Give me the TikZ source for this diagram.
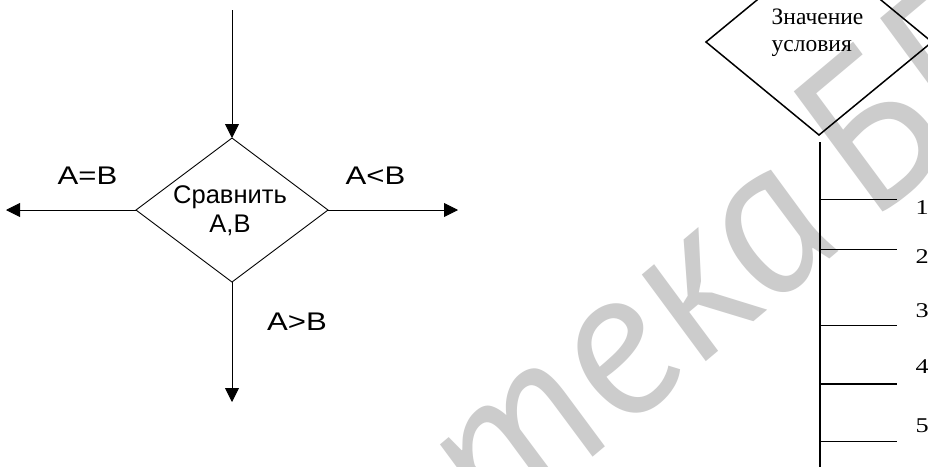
\documentclass[tikz,border=0pt]{standalone}
\usepackage{fontspec}
\setmainfont{Liberation Serif}
\newfontfamily\labelsans{Liberation Sans}
\newfontfamily\stampfont{PT Sans}
\usetikzlibrary{arrows.meta,shapes.geometric}

\begin{document}
\begin{tikzpicture}[x=1pt,y=-1pt,
  thinline/.style={line width=0.9pt, draw=black},
  boldline/.style={line width=1.5pt, draw=black},
  flow/.style={thinline, -{Triangle[length=14pt,width=14pt]}},
  decision/.style={shape=diamond, inner sep=0pt, outer sep=0pt},
  sanslabel/.style={font=\labelsans\fontsize{25.5pt}{29pt}\selectfont, inner sep=0pt},
  seriflabel/.style={font=\fontsize{23.5pt}{26.7pt}\selectfont, inner sep=0pt},
  casenum/.style={font=\fontsize{21pt}{24pt}\selectfont, inner sep=0pt, anchor=base west},
  stamptext/.style={text=black!20, font=\stampfont\itshape\fontsize{215pt}{215pt}\selectfont,
    rotate=40, xslant=-0.15, anchor=base, inner sep=0pt}]

\useasboundingbox (0,0) rectangle (928,466);
\clip (0,0) rectangle (928,466);
\fill[white] (0,0) rectangle (928,466);

% library stamp behind the drawing
\node[stamptext] (stamp) at (853,239) {\llap{Библиотека}\rlap{\hspace{0.15em}БГУИР}};

% ---- comparison block with three exits ----
\node[decision, thinline, minimum width=192pt, minimum height=144pt] (cmp) at (232,210) {};
\node[sanslabel, align=center] (cmptext) at (230,211) {Сравнить\\A,B};

\coordinate (entry) at (232,10);
\coordinate (exitL) at (6,210);
\coordinate (exitR) at (458,210);
\coordinate (exitD) at (232,402);

\draw[flow] (entry) -- (cmp.north);
\draw[flow] (cmp.west) -- (exitL);
\draw[flow] (cmp.east) -- (exitR);
\draw[flow] (cmp.south) -- (exitD);

\node[sanslabel] (eq) at (87.5,176) {\scalebox{1.22}[1]{A=B}};
\node[sanslabel] (lt) at (375.5,176) {\scalebox{1.22}[1]{A<B}};
\node[sanslabel] (gt) at (297,321.7) {\scalebox{1.22}[1]{A>B}};

% ---- multiway selection ----
\node[decision, boldline, minimum width=226pt, minimum height=186pt] (sel) at (819,42) {};
\node[seriflabel, align=left, anchor=west] (seltext) at (771.5,33) {Значение\\условия};

\coordinate (busTop) at (820,142);
\coordinate (busEnd) at (820,470);
\draw[boldline] (busTop) -- (busEnd);

\foreach \k/\ly/\ty in {1/199.3/214.8, 2/249.5/263.8, 3/325.5/317.8, 4/383.8/373.8, 5/441.7/432.8}{
  \coordinate (tap\k) at (820,\ly);
  \coordinate (end\k) at (897,\ly);
  \draw[boldline] (tap\k) -- (end\k);
  \node[casenum] (case\k) at (915.5,\ty) {\scalebox{1.25}[1]{\k}};
}
\end{tikzpicture}
\end{document}
